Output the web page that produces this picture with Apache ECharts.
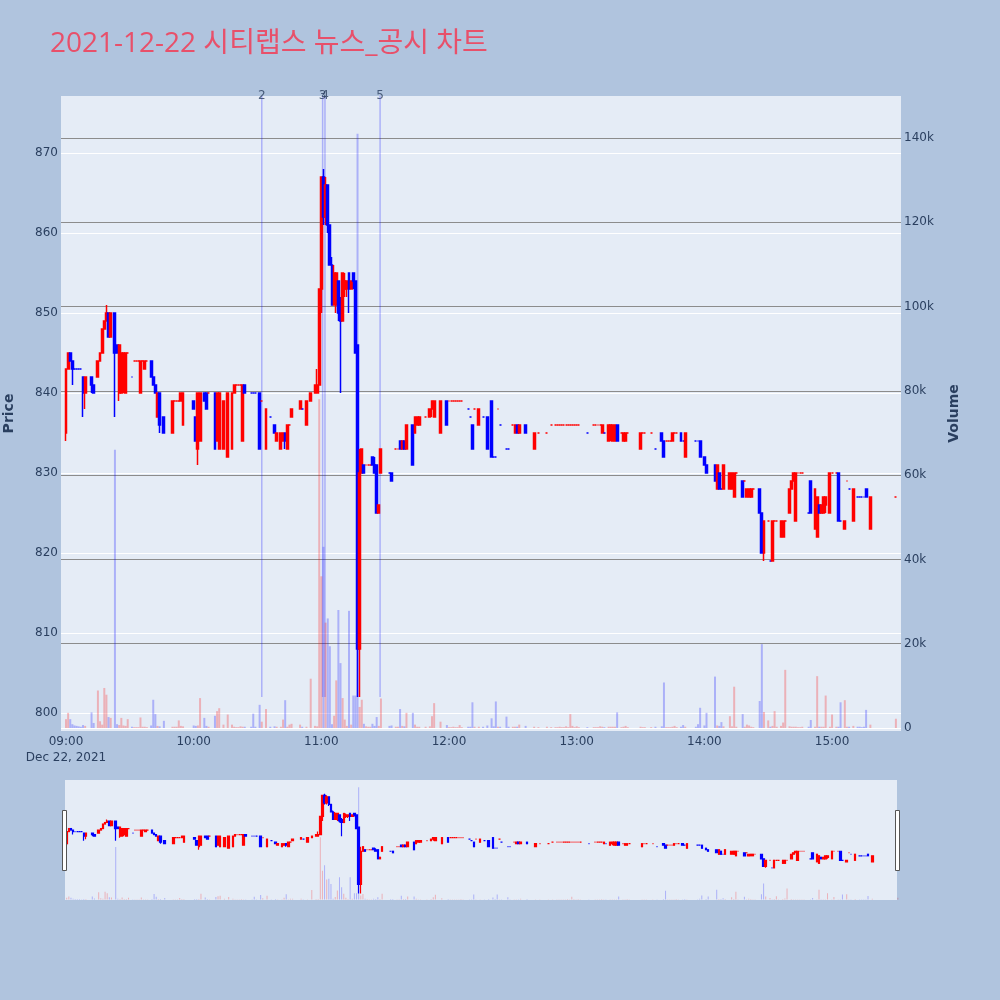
<!DOCTYPE html>
<html>
<head>
<meta charset="utf-8">
<script src="https://cdn.jsdelivr.net/npm/echarts@6.0.0/dist/echarts.min.js"></script>
<style>
html,body{margin:0;padding:0;background:#b0c4de;}
#chart{width:1000px;height:1000px;}
</style>
</head>
<body>
<div id="chart"></div>
<script>
// ---------------- DATA ----------------
const titleText = '2021-12-22 시티랩스 뉴스_공시 차트';
const dateLabel = 'Dec 22, 2021';

const times = [
"09:00","09:01","09:02","09:03","09:04","09:05","09:06","09:07","09:08","09:09",
"09:12","09:13","09:15","09:16","09:17","09:18","09:19","09:20","09:21","09:23",
"09:24","09:25","09:26","09:27","09:28","09:29","09:31","09:32","09:33","09:34",
"09:35","09:36","09:37","09:38","09:40","09:41","09:42","09:43","09:44","09:46",
"09:50","09:51","09:52","09:53","09:54","09:55","10:00","10:01","10:02","10:03",
"10:05","10:06","10:07","10:10","10:11","10:12","10:14","10:16","10:18","10:19",
"10:20","10:21","10:22","10:23","10:24","10:27","10:28","10:29","10:31","10:32",
"10:34","10:36","10:38","10:39","10:41","10:42","10:43","10:44","10:45","10:46",
"10:50","10:51","10:53","10:55","10:57","10:58","10:59","11:00","11:01","11:02",
"11:03","11:04","11:05","11:06","11:07","11:08","11:09","11:10","11:11","11:12",
"11:13","11:14","11:15","11:16","11:17","11:18","11:19","11:20","11:21","11:22",
"11:23","11:24","11:25","11:26","11:27","11:28","11:32","11:33","11:35","11:36",
"11:37","11:38","11:39","11:40","11:43","11:44","11:45","11:46","11:49","11:51",
"11:52","11:53","11:56","11:59","12:00","12:01","12:02","12:03","12:04","12:05",
"12:06","12:09","12:10","12:11","12:12","12:14","12:16","12:18","12:20","12:21",
"12:22","12:23","12:24","12:27","12:28","12:30","12:31","12:32","12:33","12:36",
"12:40","12:42","12:46","12:48","12:50","12:51","12:52","12:53","12:54","12:55",
"12:56","12:57","12:58","12:59","13:00","13:01","13:05","13:08","13:09","13:10",
"13:11","13:12","13:13","13:15","13:16","13:17","13:18","13:19","13:21","13:22",
"13:23","13:24","13:30","13:31","13:32","13:35","13:37","13:40","13:41","13:42",
"13:43","13:44","13:45","13:46","13:47","13:49","13:50","13:51","13:56","13:57",
"13:58","14:00","14:01","14:05","14:06","14:07","14:08","14:09","14:12","14:13",
"14:14","14:15","14:18","14:19","14:20","14:21","14:22","14:23","14:26","14:27",
"14:28","14:30","14:31","14:32","14:33","14:34","14:36","14:37","14:38","14:40",
"14:41","14:42","14:43","14:44","14:45","14:46","14:49","14:50","14:52","14:53",
"14:54","14:55","14:56","14:57","14:59","15:00","15:02","15:03","15:04","15:06",
"15:07","15:08","15:10","15:12","15:13","15:14","15:15","15:16","15:18","15:30"
];
const opens = [
835,843,845,844,843,843,843,843,842,840,
842,841,842,844,845,848,849,850,847,850,
846,840,840,841,840,845,842,844,844,844,
840,844,843,844,844,842,841,837,840,837,
835,839,839,839,839,836,839,837,833,834,
840,840,840,840,834,833,833,832,833,840,
841,841,841,834,841,840,840,840,840,839,
833,837,836,834,833,834,835,833,836,837,
838,838,836,839,840,840,841,853,867,862,
866,861,856,851,851,854,851,849,853,853,
855,853,855,854,846,808,830,831,831,831,
831,832,831,831,825,830,830,830,833,833,
834,833,834,833,836,835,836,836,837,837,
838,837,835,839,839,839,839,839,839,839,
839,838,837,836,838,836,837,837,839,832,
832,838,836,833,833,836,835,836,835,836,
833,835,835,836,836,836,836,836,836,836,
836,836,836,836,836,836,835,836,836,836,
836,835,835,834,835,834,834,836,835,834,
834,835,833,835,835,835,833,835,834,834,
834,834,834,835,835,835,834,832,834,834,
834,832,831,831,828,830,828,828,828,828,
827,830,829,829,827,827,827,828,828,825,
820,824,819,819,824,824,822,822,824,825,
828,829,824,830,830,830,825,829,823,822,
826,825,825,826,825,830,830,830,824,823,
829,828,824,827,827,827,827,828,823,827
];
const closes = [
843,845,844,843,843,843,843,843,840,842,
841,840,844,845,848,849,850,847,850,845,
845,846,845,845,845,845,842,844,844,844,
844,844,844,844,842,841,840,840,836,835,
839,839,839,839,840,840,838,834,840,840,
839,838,840,833,840,840,839,840,840,841,
841,841,841,841,840,840,840,840,833,839,
838,837,835,835,835,835,834,836,836,838,
839,838,839,840,841,841,853,867,862,866,
861,856,851,855,855,850,849,855,854,854,
853,854,854,845,808,830,833,830,831,831,
831,831,830,825,826,833,830,829,833,833,
833,834,833,836,831,837,837,837,837,838,
839,839,839,836,839,839,839,839,839,839,
839,838,837,833,838,838,837,833,832,832,
832,838,836,833,833,836,836,835,836,835,
835,835,835,836,836,836,836,836,836,836,
836,836,836,836,836,836,835,836,836,836,
836,836,835,836,836,836,836,834,835,835,
835,835,835,835,835,835,833,834,832,834,
834,834,835,835,835,834,834,835,834,834,
832,831,830,829,831,828,828,831,830,830,
830,830,827,829,828,828,828,828,825,820,
824,824,819,824,824,824,824,824,824,828,
829,830,830,830,830,830,825,825,828,827,
825,826,827,827,830,830,830,824,824,824,
829,828,828,827,827,827,827,827,827,827
];
const lows = [
834,843,844,841,843,843,843,843,837,838,
840,840,842,844,845,848,849,847,847,837,
845,839,840,840,840,845,842,844,844,844,
840,844,843,844,842,841,840,837,835,835,
835,839,839,839,839,836,838,834,831,834,
839,838,840,833,834,833,833,832,833,840,
841,841,841,834,840,840,840,840,833,839,
833,837,835,834,833,834,833,833,836,837,
838,838,836,839,840,840,841,850,861,861,
860,856,851,851,850,849,840,849,852,852,
850,853,853,845,802,802,830,830,831,831,
831,831,830,825,825,830,830,829,833,833,
833,833,833,833,831,835,836,836,837,837,
837,837,835,836,839,839,839,839,839,839,
839,838,837,833,838,836,837,833,832,832,
832,838,836,833,833,836,835,835,835,835,
833,835,835,836,836,836,836,836,836,836,
836,836,836,836,836,836,835,836,836,836,
836,835,835,834,834,834,834,834,835,834,
834,835,833,835,835,835,833,834,832,834,
834,834,834,835,835,834,834,832,834,834,
832,831,830,829,828,828,828,828,828,828,
827,830,827,829,827,827,827,828,825,820,
819,824,819,819,824,824,822,822,824,825,
828,829,824,830,830,830,825,825,823,822,
825,825,825,825,825,830,830,824,824,823,
829,828,824,827,827,827,827,827,823,827
];
const highs = [
843,845,845,844,843,843,843,843,842,842,
842,841,844,845,848,849,851,850,850,850,
846,846,845,845,845,845,842,844,844,844,
844,844,844,844,844,842,841,840,840,837,
839,839,839,839,840,840,839,837,840,840,
840,840,840,840,840,840,839,840,840,841,
841,841,841,841,841,840,840,840,840,839,
838,837,836,835,835,835,835,836,836,838,
839,838,839,840,841,843,853,867,868,867,
866,861,857,856,855,854,852,855,855,854,
855,854,855,854,846,833,833,831,831,831,
831,832,832,831,826,833,830,830,833,833,
834,834,834,836,836,837,837,837,837,838,
839,839,839,839,839,839,839,839,839,839,
839,838,837,836,838,838,837,837,839,832,
832,838,836,833,833,836,836,836,836,836,
835,835,835,836,836,836,836,836,836,836,
836,836,836,836,836,836,835,836,836,836,
836,836,835,836,836,836,836,836,835,835,
835,835,835,835,835,835,833,835,834,834,
834,834,835,835,835,835,834,835,834,834,
834,832,831,831,831,830,828,831,830,830,
830,830,829,829,828,828,828,828,828,825,
824,824,819,824,824,824,824,824,824,828,
829,830,830,830,830,830,825,829,828,827,
826,826,827,827,830,830,830,830,824,824,
829,828,828,827,827,827,827,828,827,827
];
const volumes = [
2100,3600,2100,900,600,500,400,300,700,500,
3700,1200,8900,1600,800,9500,7900,2600,2400,66000,
900,700,2400,600,500,2100,300,200,200,200,
2500,300,300,200,600,6700,3300,500,400,1700,
300,300,300,1800,500,400,600,500,600,7100,
2400,500,300,2900,4000,4700,800,3200,800,300,
200,200,400,300,300,300,3400,300,5500,1500,
4500,300,400,300,300,2000,6600,300,800,1000,
800,300,300,11700,500,400,78000,36000,43000,25000,
26000,19400,900,2900,11300,28000,15400,7100,2000,500,
27800,800,7700,7700,141000,5000,6700,1000,400,300,
300,1000,500,2600,500,7000,500,600,300,300,
4500,500,400,3600,3600,800,300,300,300,400,
2800,5900,1500,700,200,200,300,200,200,700,
200,300,300,6100,300,300,300,600,2300,400,
6300,300,300,2700,300,300,300,300,800,500,
300,200,300,200,200,200,300,200,200,400,
200,3300,500,200,400,200,200,200,200,200,
400,300,200,300,300,300,300,3700,200,300,
500,200,300,200,200,200,300,400,10800,200,
200,200,300,500,200,300,700,300,300,900,
4800,600,3600,12200,600,500,1400,400,2800,400,
9800,300,3300,300,800,600,300,200,6400,19900,
3800,1800,300,500,4000,300,500,1300,13800,400,
300,300,300,200,200,300,300,1900,300,12300,
300,300,300,7700,300,3200,300,300,6100,6600,
300,300,500,300,300,200,300,4300,800,2200
];

// news / disclosure markers
const newsTimes = ["10:32","11:00:36","11:01:42","11:27:36"];
const newsLabels = ["2","3","4","5"];

// axis ticks
const timeTickLabels = ["09:00","10:00","11:00","12:00","13:00","14:00","15:00"];
const priceTickRange = [800, 870, 10];      // min, max, step
const volumeTickRange = [0, 140000, 20000]; // min, max, step

// ---------------- BUILD ----------------
const TITLE_FONT = '"Open Sans","Noto Sans CJK KR",sans-serif';
const FONT = '"DejaVu Sans",Verdana,sans-serif';
const TXT = '#2a3f5f';
const toMin = t => { const p = t.split(':').map(Number); return p[0]*60 + p[1] + (p[2]||0)/60 - 540; };
const xs = times.map(toMin);

// plotly-like direction: close vs open, ties decided by previous close / previous direction
const dir = [];
for (let i = 0; i < xs.length; i++) {
  let d;
  if (closes[i] > opens[i]) d = 1;
  else if (closes[i] < opens[i]) d = -1;
  else if (i === 0) d = 1;
  else if (closes[i] > closes[i-1]) d = 1;
  else if (closes[i] < closes[i-1]) d = -1;
  else d = dir[i-1];
  dir.push(d);
}
const UP = '#ff0000', DOWN = '#0000ff';
const UPV = 'rgba(255,0,0,0.25)', DOWNV = 'rgba(0,0,255,0.25)';
const candleData = xs.map((x, i) => {
  const c = dir[i] > 0 ? UP : DOWN;
  return { value: [x, opens[i], closes[i], lows[i], highs[i]],
           itemStyle: { color: c, color0: c, borderColor: c, borderColor0: c, borderColorDoji: c } };
});
const volData = xs.map((x, i) => ({ value: [x, volumes[i]], itemStyle: { color: dir[i] > 0 ? UPV : DOWNV } }));
const dayLow = Math.min(...lows);
const newsX = newsTimes.map(toMin);
const timeTickVals = timeTickLabels.map(toMin);

const X_MIN = -2.35, X_MAX = 392.4;
const P_MIN = 797.75, P_MAX = 877.125;
const V_MIN = -712, V_MAX = 150000;
const SX_MIN = -0.8, SX_MAX = 389.6;

const series = [];
newsX.forEach(x => series.push({
  type: 'line', xAxisIndex: 0, yAxisIndex: 0, data: [[x, dayLow], [x, P_MAX]],
  symbol: 'none', lineStyle: { color: 'rgba(0,0,255,0.25)', width: 1.5 }, z: 1, silent: true, clip: false
}));
series.push({
  type: 'scatter', xAxisIndex: 0, yAxisIndex: 0, symbolSize: 0, clip: false, silent: true, z: 6,
  data: newsX.map((x, i) => ({ value: [x, P_MAX], name: newsLabels[i] })),
  label: { show: true, position: 'inside', formatter: p => p.name, color: TXT, fontSize: 12, fontFamily: FONT }
});
series.push({ type: 'bar', xAxisIndex: 2, yAxisIndex: 2, data: volData, barWidth: 2, clip: false, z: 2, silent: true });
series.push({
  type: 'candlestick', xAxisIndex: 1, yAxisIndex: 1, data: candleData, encode: { x: 0, y: [1, 2, 3, 4] },
  barWidth: 2.4, itemStyle: { borderWidth: 1.5 }, z: 3, clip: false, silent: true
});
// range-slider preview
series.push({ type: 'bar', xAxisIndex: 3, yAxisIndex: 4, data: volData, barWidth: 1, z: 2, silent: true });
series.push({
  type: 'candlestick', xAxisIndex: 3, yAxisIndex: 3, data: candleData, encode: { x: 0, y: [1, 2, 3, 4] },
  barWidth: 2, itemStyle: { borderWidth: 1.2 }, z: 3, silent: true
});

const hidden = { show: false };
const gridBase = { outerBoundsMode: 'none', containLabel: false };
const option = {
  backgroundColor: '#b0c4de',
  animation: false,
  title: { text: titleText, left: 45, top: 25, padding: 5,
           textStyle: { color: '#e8506a', fontSize: 28, fontWeight: 'normal', fontFamily: TITLE_FONT } },
  grid: [
    Object.assign({ left: 61, top: 96, width: 840, height: 635, show: true, backgroundColor: '#e5ecf6', borderWidth: 0, z: -1 }, gridBase),
    Object.assign({ left: 61, top: 153, width: 840, height: 560 }, gridBase),
    Object.assign({ left: 61, top: 138, width: 840, height: 590 }, gridBase),
    Object.assign({ left: 65, top: 780, width: 832, height: 120, show: true, backgroundColor: '#e5ecf6', borderWidth: 0, z: -1 }, gridBase)
  ],
  xAxis: [
    { type: 'value', gridIndex: 0, min: X_MIN, max: X_MAX,
      axisLine: hidden, axisTick: hidden, splitLine: hidden,
      axisLabel: { customValues: timeTickVals,
        formatter: v => { const i = timeTickVals.findIndex(t => Math.abs(t - v) < 1e-6);
                          if (i < 0) return ''; return i === 0 ? timeTickLabels[i] + '\n' + dateLabel : timeTickLabels[i]; },
        color: TXT, fontSize: 12, fontFamily: FONT, margin: 3, lineHeight: 16 } },
    { type: 'value', gridIndex: 1, min: X_MIN, max: X_MAX, show: false },
    { type: 'value', gridIndex: 2, min: X_MIN, max: X_MAX, show: false },
    { type: 'value', gridIndex: 3, min: SX_MIN, max: SX_MAX, show: false }
  ],
  yAxis: [
    { type: 'value', gridIndex: 0, position: 'left', min: P_MIN, max: P_MAX,
      name: 'Price', nameLocation: 'middle', nameGap: 45,
      nameTextStyle: { color: TXT, fontSize: 14, fontWeight: 'bold', fontFamily: FONT },
      axisLine: hidden, axisTick: hidden, axisLabel: hidden, splitLine: hidden },
    { type: 'value', gridIndex: 1, position: 'left', min: priceTickRange[0], max: priceTickRange[1], interval: priceTickRange[2],
      axisLine: hidden, axisTick: hidden,
      axisLabel: { color: TXT, fontSize: 12, fontFamily: FONT, margin: 3 },
      splitLine: { show: true, lineStyle: { color: '#ffffff', width: 1 } } },
    { type: 'value', gridIndex: 2, position: 'right', min: volumeTickRange[0], max: volumeTickRange[1], interval: volumeTickRange[2],
      axisLine: hidden, axisTick: hidden,
      axisLabel: { color: TXT, fontSize: 12, fontFamily: FONT, margin: 3, formatter: v => v === 0 ? '0' : (v / 1000) + 'k' },
      splitLine: { show: true, lineStyle: { color: ['#ffffff','#8c8c8c','#8c8c8c','#8c8c8c','#8c8c8c','#8c8c8c','#8c8c8c','#8c8c8c'], width: 1 } } },
    { type: 'value', gridIndex: 3, min: P_MIN, max: P_MAX, show: false },
    { type: 'value', gridIndex: 3, min: V_MIN, max: V_MAX, show: false },
    { type: 'value', gridIndex: 0, position: 'right', min: 0, max: 1,
      name: 'Volume', nameLocation: 'middle', nameGap: 46,
      nameTextStyle: { color: TXT, fontSize: 14, fontWeight: 'bold', fontFamily: FONT },
      axisLine: hidden, axisTick: hidden, axisLabel: hidden, splitLine: hidden }
  ],
  graphic: [
    { type: 'rect', left: 62, top: 810, shape: { width: 4, height: 60 }, style: { fill: '#ffffff', stroke: '#555', lineWidth: 1 }, z: 10 },
    { type: 'rect', left: 895, top: 810, shape: { width: 4, height: 60 }, style: { fill: '#ffffff', stroke: '#555', lineWidth: 1 }, z: 10 }
  ],
  series: series
};
const chart = echarts.init(document.getElementById('chart'), null, { renderer: 'canvas' });
chart.setOption(option);
</script>
</body>
</html>
